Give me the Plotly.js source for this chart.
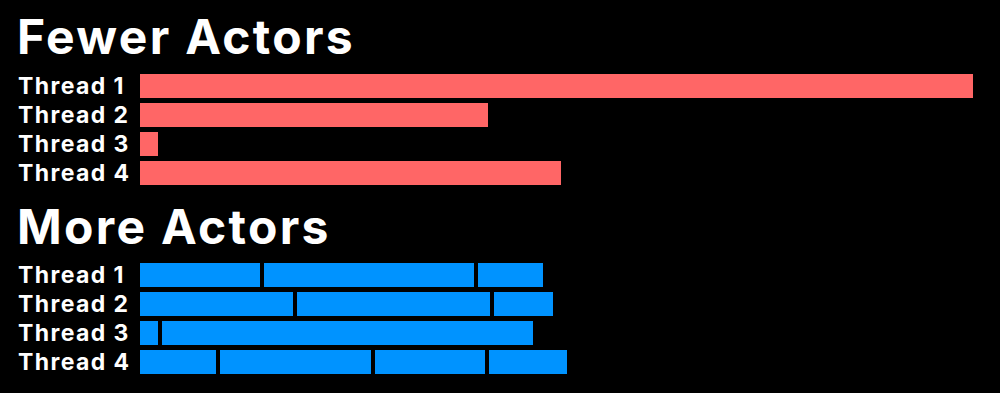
<!DOCTYPE html>
<html>
<head>
<meta charset="utf-8">
<script src="https://cdn.plot.ly/plotly-3.0.1.min.js"></script>
<style>
  html, body { margin: 0; padding: 0; background: #000; }
  #chart { width: 1000px; height: 393px; }
  /* open up the bold type a little: row labels, then group headings */
  #chart g.annotation .annotation-text { letter-spacing: 1.4px; }
  #chart g.annotation[data-index="8"] .annotation-text,
  #chart g.annotation[data-index="9"] .annotation-text { letter-spacing: 2.3px; }
</style>
</head>
<body>
<div id="chart"></div>
<script>
// Work done by each thread, in time units along the shared x axis.
const threads = ["Thread 1", "Thread 2", "Thread 3", "Thread 4"];

// Fewer actors: one long job per thread.
const fewerActors = [837, 352, 22, 425];

// More actors: each thread runs a sequence of smaller jobs.
const moreActorsThread1 = [124, 214, 69];
const moreActorsThread2 = [157, 197, 63];
const moreActorsThread3 = [22, 375];
const moreActorsThread4 = [80, 155, 114, 82];

const groupTitles = ["Fewer Actors", "More Actors"];

const RED = "#ff6666";
const BLUE = "#0093ff";
const FONT = "Inter, 'Open Sans', sans-serif";

const W = 1000, H = 393, LEFT = 138;
const barWidth = 28 / 29;
const gapLine = { color: "#000", width: 4 };

const traces = [];

// Top group: single bars.
traces.push({
  type: "bar",
  orientation: "h",
  y: threads,
  x: fewerActors,
  base: 0,
  width: barWidth,
  marker: { color: RED, line: gapLine },
  xaxis: "x",
  yaxis: "y",
  hoverinfo: "skip",
  showlegend: false
});

// Bottom group: one bar per job, laid end to end along its thread.
const moreActors = [moreActorsThread1, moreActorsThread2, moreActorsThread3, moreActorsThread4];
moreActors.forEach((jobs, i) => {
  let start = 0;
  const bases = [], lens = [], ys = [];
  jobs.forEach(d => { bases.push(start); lens.push(d); ys.push(threads[i]); start += d; });
  traces.push({
    type: "bar",
    orientation: "h",
    y: ys,
    x: lens,
    base: bases,
    width: barWidth,
    marker: { color: BLUE, line: gapLine },
    xaxis: "x2",
    yaxis: "y2",
    hoverinfo: "skip",
    showlegend: false
  });
});

const plotW = W - LEFT;
const xr = [0, plotW];

function yAxis(domain) {
  return {
    domain: domain,
    type: "category",
    categoryorder: "array",
    categoryarray: threads,
    range: [3.5, -0.5],
    showticklabels: false,
    showgrid: false,
    zeroline: false,
    showline: false,
    ticks: "",
    fixedrange: true
  };
}
function xAxis(anchor) {
  return {
    range: xr,
    anchor: anchor,
    visible: false,
    showgrid: false,
    zeroline: false,
    fixedrange: true
  };
}

// Vertical placement of the two groups (pixels from the top).
const topBand = [71.5, 187.5];
const bottomBand = [260.5, 376.5];
const toDomain = b => [(H - b[1]) / H, (H - b[0]) / H];

const annotations = [];

// Row labels, left-aligned in the margin.
const labelX = (16 - LEFT) / plotW;
["y", "y2"].forEach(yref => {
  threads.forEach(t => {
    annotations.push({
      xref: "paper", yref: yref,
      x: labelX, y: t,
      xanchor: "left", yanchor: "middle", align: "left",
      text: t,
      showarrow: false,
      font: { family: FONT, size: 23, color: "#fff", weight: 700 }
    });
  });
});

// Group headings.
const headingY = [36.5, 226.5];
groupTitles.forEach((g, i) => {
  annotations.push({
    xref: "paper", yref: "paper",
    x: (15 - LEFT) / plotW,
    y: (H - headingY[i]) / H,
    xanchor: "left", yanchor: "middle", align: "left",
    text: g,
    showarrow: false,
    font: { family: FONT, size: 48, color: "#fff", weight: 700 }
  });
});

const layout = {
  width: W,
  height: H,
  margin: { l: LEFT, r: 0, t: 0, b: 0 },
  paper_bgcolor: "#000",
  plot_bgcolor: "#000",
  barmode: "overlay",
  bargap: 0,
  xaxis: xAxis("y"),
  xaxis2: xAxis("y2"),
  yaxis: yAxis(toDomain(topBand)),
  yaxis2: yAxis(toDomain(bottomBand)),
  annotations: annotations,
  showlegend: false
};

Plotly.newPlot("chart", traces, layout, { displayModeBar: false, staticPlot: true });
</script>
</body>
</html>
